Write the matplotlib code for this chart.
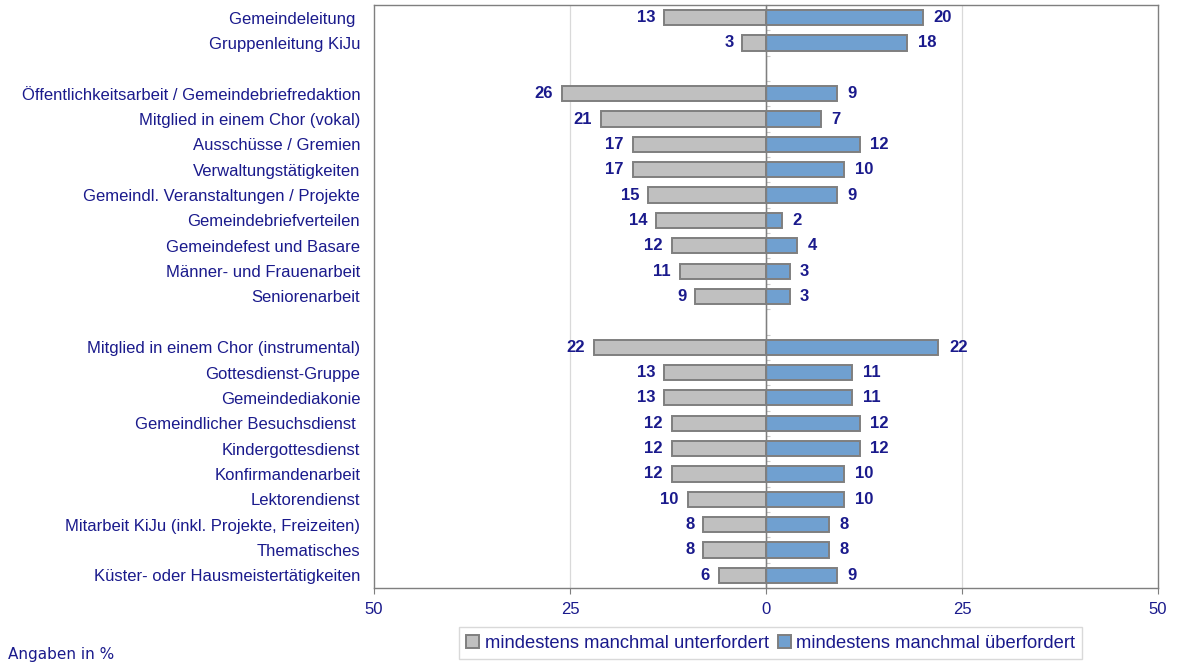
import numpy as np
import matplotlib.pyplot as plt

plt.rcParams["font.family"] = ["Liberation Sans", "DejaVu Sans"]

# Kategorien (None = Leerzeile zwischen Gruppen)
categories = [
    "Gemeindeleitung ",
    "Gruppenleitung KiJu",
    None,
    "Öffentlichkeitsarbeit / Gemeindebriefredaktion",
    "Mitglied in einem Chor (vokal)",
    "Ausschüsse / Gremien",
    "Verwaltungstätigkeiten",
    "Gemeindl. Veranstaltungen / Projekte",
    "Gemeindebriefverteilen",
    "Gemeindefest und Basare",
    "Männer- und Frauenarbeit",
    "Seniorenarbeit",
    None,
    "Mitglied in einem Chor (instrumental)",
    "Gottesdienst-Gruppe",
    "Gemeindediakonie",
    "Gemeindlicher Besuchsdienst ",
    "Kindergottesdienst",
    "Konfirmandenarbeit",
    "Lektorendienst",
    "Mitarbeit KiJu (inkl. Projekte, Freizeiten)",
    "Thematisches",
    "Küster- oder Hausmeistertätigkeiten",
]
unterfordert = [13, 3, None, 26, 21, 17, 17, 15, 14, 12, 11, 9, None,
                22, 13, 13, 12, 12, 12, 10, 8, 8, 6]
ueberfordert = [20, 18, None, 9, 7, 12, 10, 9, 2, 4, 3, 3, None,
                22, 11, 11, 12, 12, 10, 10, 8, 8, 9]
xticks = [-50, -25, 0, 25, 50]
xticklabels = ["50", "25", "0", "25", "50"]

navy = "#1a1a8c"
gray_bar = "#C0C0C0"
blue_bar = "#70A0D0"
edge = "#7F7F7F"

fig = plt.figure(figsize=(11.81, 6.63), dpi=100)
ax = fig.add_axes([0.3167, 0.1131, 0.6638, 0.8794])

idx = [i for i, c in enumerate(categories) if c is not None]
labels = [categories[i] for i in idx]
left = np.array([unterfordert[i] for i in idx], dtype=float)
right = np.array([ueberfordert[i] for i in idx], dtype=float)

ax.barh(idx, -left, height=0.6, color=gray_bar, edgecolor=edge, linewidth=1.4,
        label="mindestens manchmal unterfordert", zorder=3)
ax.barh(idx, right, height=0.6, color=blue_bar, edgecolor=edge, linewidth=1.4,
        label="mindestens manchmal überfordert", zorder=3)

for y, l, r in zip(idx, left, right):
    ax.annotate(f"{l:.0f}", (-l, y), xytext=(-6.5, 0), textcoords="offset points",
                ha="right", va="center", color=navy, fontsize=12, fontweight="bold")
    ax.annotate(f"{r:.0f}", (r, y), xytext=(7.5, 0), textcoords="offset points",
                ha="left", va="center", color=navy, fontsize=12, fontweight="bold")

ax.set_xlim(-50, 50)
ax.set_ylim(len(categories) - 0.5, -0.5)
ax.set_xticks(xticks)
ax.set_xticklabels(xticklabels)
ax.tick_params(axis="x", colors=edge, labelcolor=navy, labelsize=12, length=4, pad=6)

ax.set_yticks(idx)
ax.set_yticklabels(labels)
ax.tick_params(axis="y", length=0, labelcolor=navy, labelsize=12, pad=10)

for s in ax.spines.values():
    s.set_color(edge)
    s.set_linewidth(1.0)

for x in [-25, 25]:
    ax.axvline(x, color="#D9D9D9", linewidth=0.9, zorder=1)
ax.axvline(0, color=edge, linewidth=1.0, zorder=4)

# kleine Teilstriche auf der Mittelachse
sec = ax.secondary_yaxis(0.5)
sec.set_yticks(np.arange(-0.5, len(categories) + 0.5, 1.0))
sec.set_yticklabels([])
sec.tick_params(length=3, color="#C8C8C8", direction="out")
sec.spines["left"].set_visible(False)

leg = ax.legend(loc="upper center", bbox_to_anchor=(0.506, -0.052), ncol=2,
                frameon=True, fancybox=False, fontsize=13.2, handlelength=0.7,
                handleheight=0.7, handletextpad=0.3, columnspacing=0.5,
                borderpad=0.4, labelcolor=navy)
leg.get_frame().set_edgecolor("#D0D0D0")
leg.get_frame().set_linewidth(1.0)

fig.text(0.007, 0.002, "Angaben in %", color=navy, fontsize=11,
         family="DejaVu Sans", ha="left", va="bottom")

fig.savefig("out.png", dpi=100)
